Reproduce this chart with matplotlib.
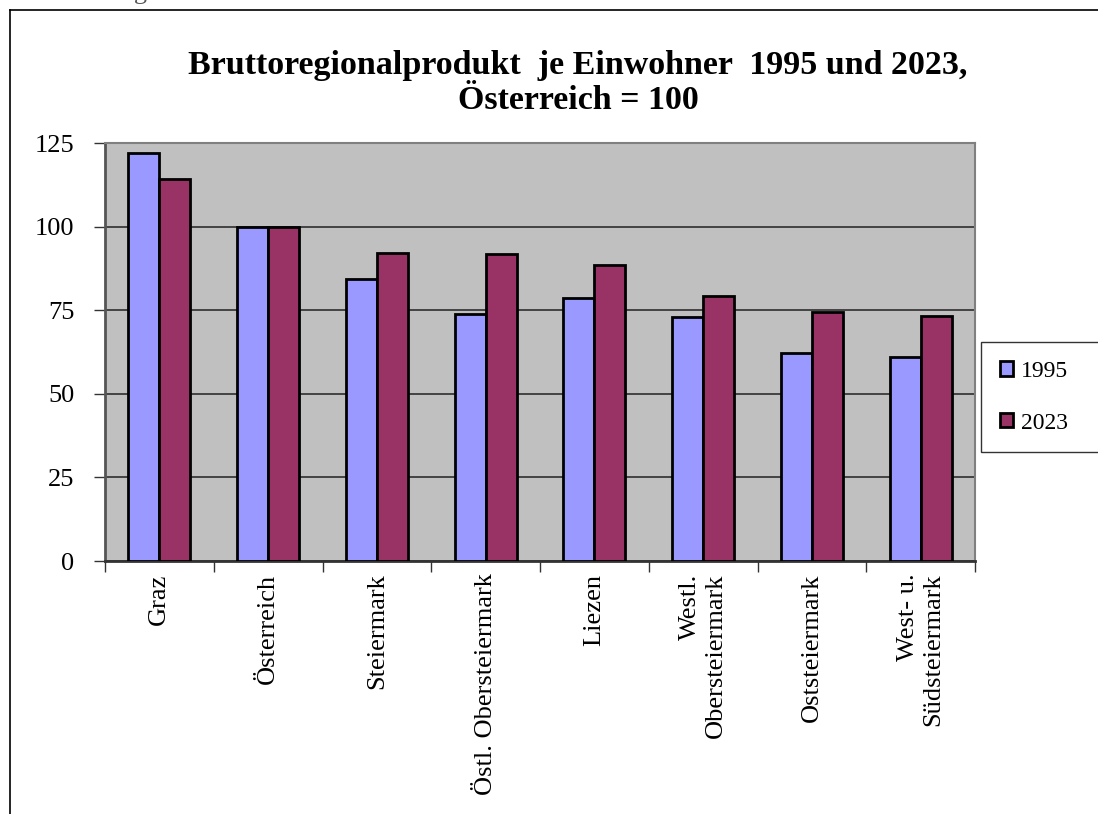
import numpy as np
import matplotlib
matplotlib.use("Agg")
import matplotlib.pyplot as plt
from matplotlib.lines import Line2D

regions = ["Graz", "Österreich", "Steiermark", "Östl. Obersteiermark", "Liezen",
           "Westl.\nObersteiermark", "Oststeiermark", "West- u.\nSüdsteiermark"]
values_1995 = [122.0, 100.0, 84.2, 73.8, 78.6, 73.1, 62.1, 60.9]
values_2023 = [114.2, 100.0, 92.2, 91.9, 88.5, 79.3, 74.6, 73.4]
series_labels = ["1995", "2023"]
yticks = [0, 25, 50, 75, 100, 125]

plt.rcParams["font.family"] = ["Liberation Serif", "DejaVu Serif"]

fig = plt.figure(figsize=(10.98, 8.14), dpi=100)
ax = fig.add_axes([105 / 1098, 1 - 561 / 814, 870 / 1098, 418 / 814])
ax.set_facecolor("#C0C0C0")

x = np.arange(len(regions))
w = 0.285
ax.bar(x - w / 2, values_1995, w, color="#9999FF", edgecolor="black", linewidth=2,
       label=series_labels[0], zorder=3)
ax.bar(x + w / 2, values_2023, w, color="#993366", edgecolor="black", linewidth=2,
       label=series_labels[1], zorder=3)

ax.set_xlim(-0.5, len(regions) - 0.5)
ax.set_ylim(0, 125)
ax.set_yticks(yticks)
ax.set_yticklabels([str(t) for t in yticks], fontsize=19)
ax.tick_params(axis="y", direction="out", length=8, width=1, pad=14, color="#333333")
ax.yaxis.grid(True, color="#222222", linewidth=1.1, zorder=1)
ax.set_axisbelow(True)

# category labels at centres, ticks at category boundaries
ax.set_xticks(x)
ax.set_xticklabels(regions, rotation=90, fontsize=19, va="top", ha="center",
                   multialignment="right")
ax.tick_params(axis="x", length=0, pad=9)
ax.set_xticks(np.arange(-0.5, len(regions)), minor=True)
ax.tick_params(axis="x", which="minor", direction="out", length=8, width=1, color="#333333")

for side in ["top", "right"]:
    ax.spines[side].set_color("#808080")
    ax.spines[side].set_linewidth(1.5)
ax.spines["left"].set_color("#555555")
ax.spines["left"].set_linewidth(2)
ax.spines["bottom"].set_color("#333333")
ax.spines["bottom"].set_linewidth(2)

fig.text(578 / 1098, 1 - 83 / 814, "Bruttoregionalprodukt  je Einwohner  1995 und 2023,\nÖsterreich = 100",
         ha="center", va="center", fontsize=24.5, fontweight="bold", linespacing=1.15)

# legend box, stretched to the right edge
leg = fig.legend(loc="upper left", bbox_to_anchor=(981 / 1098, 1 - 342 / 814, 120 / 1098, 0),
                 mode="expand", fontsize=17, frameon=True, fancybox=False, edgecolor="black",
                 handlelength=0.55, handleheight=0.55, handletextpad=0.35, labelspacing=1.3,
                 borderpad=0.8, borderaxespad=0)
leg.get_frame().set_linewidth(1)

# outer frame (clipped at right and bottom)
fig.add_artist(Line2D([10 / 1098, 10 / 1098], [0, 1 - 10 / 814], color="black", linewidth=1.2))
fig.add_artist(Line2D([10 / 1098, 1], [1 - 10 / 814, 1 - 10 / 814], color="black", linewidth=1.2))

# caption above the frame, mostly cut off at the top edge like in the source
fig.text(35 / 1098, 1 + 1 / 814, "Abbildung", fontsize=19, ha="left", va="baseline", color="#555555")

fig.savefig("out.png", dpi=100)
